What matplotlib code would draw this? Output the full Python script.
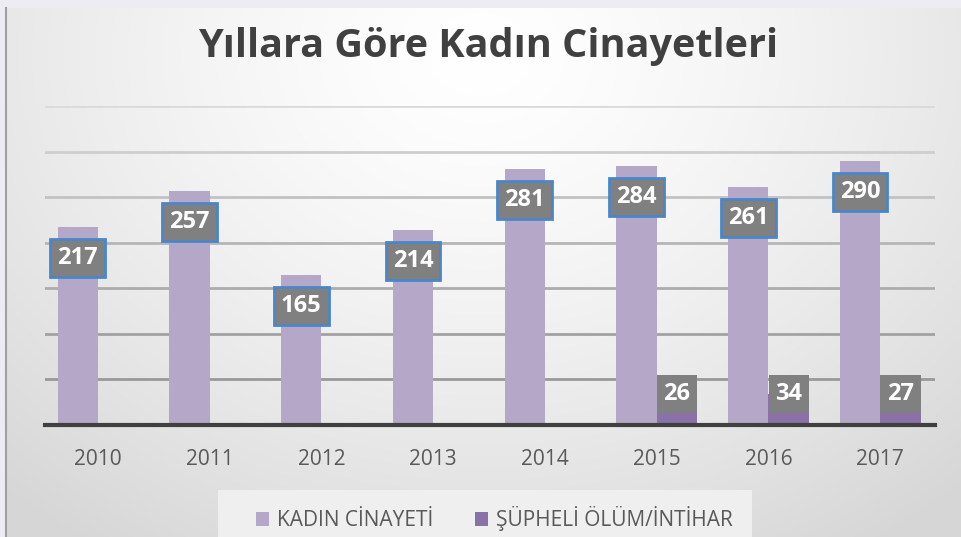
import numpy as np
import matplotlib
matplotlib.use("Agg")
import matplotlib.pyplot as plt
from matplotlib.patches import Rectangle

plt.rcParams["font.family"] = ["Open Sans", "DejaVu Sans"]

# ----------------------------------------------------------------------
# data
# ----------------------------------------------------------------------
YEARS = ["2010", "2011", "2012", "2013", "2014", "2015", "2016", "2017"]
KADIN_CINAYETI = [217, 257, 165, 214, 281, 284, 261, 290]
SUPHELI_OLUM = [np.nan, np.nan, np.nan, np.nan, np.nan, 26, 34, 27]
SERIES_NAMES = ["KADIN CİNAYETİ", "ŞÜPHELİ ÖLÜM/İNTİHAR"]

LIGHT = "#b4a7c8"
DARK = "#8a72a8"
TEXT = "#595959"
LABEL_BOX = "#808080"
LABEL_EDGE = "#4a86c8"

fig = plt.figure(figsize=(9.62, 5.37), dpi=100)

# --- background: soft radial gradient like the office chart area
bg = fig.add_axes([0, 0, 1, 1], zorder=-10)
yy, xx = np.mgrid[0:1:200j, 0:1:300j]
r = np.sqrt(((xx - 0.5) / 0.75) ** 2 + ((yy - 0.1) / 1.1) ** 2)
shade = 1.0 - 0.16 * np.clip(r, 0, 1) ** 1.4
bg.imshow(np.dstack([shade, shade, shade]), extent=[0, 1, 0, 1], aspect="auto", origin="upper")
bg.add_patch(Rectangle((0, 0.985), 1, 0.015, color="#ececf2", lw=0))
bg.add_patch(Rectangle((0, 0), 0.006, 0.985, color="#ececf2", lw=0))
bg.plot([0.0065, 0.0065], [0, 0.985], color="#a0a0a0", lw=1.5)
# legend panel
bg.add_patch(Rectangle((218 / 962, 0), (752 - 218) / 962, 47 / 537, color="#efefef", lw=0))
bg.set_xlim(0, 1)
bg.set_ylim(0, 1)
bg.axis("off")

# --- main plot
ax = fig.add_axes([0.047, 0.2086, 0.925, 0.594])
ax.patch.set_alpha(0)

x = np.arange(len(YEARS))
w = 0.36
b1 = ax.bar(x - w / 2, KADIN_CINAYETI, w, color=LIGHT, label=SERIES_NAMES[0], zorder=3)
b2 = ax.bar(x + w / 2, SUPHELI_OLUM, w, color=DARK, label=SERIES_NAMES[1], zorder=3)

ax.set_ylim(0, 350)
ax.set_xlim(-0.47, 7.49)
grid_vals = np.arange(50, 351, 50)
grid_cols = ["#999999", "#a2a2a2", "#acacac", "#b6b6b6", "#c2c2c2", "#cecece", "#dadada"]
for gv, gc in zip(grid_vals, grid_cols):
    ax.axhline(gv, color=gc, lw=2, zorder=1)
ax.set_yticks([])
ax.set_xticks(x)
ax.set_xticklabels(YEARS, fontsize=15, color=TEXT)
ax.tick_params(axis="x", length=0, pad=17)
for s in ["top", "right", "left"]:
    ax.spines[s].set_visible(False)
ax.spines["bottom"].set_color("#404040")
ax.spines["bottom"].set_linewidth(3)
ax.spines["bottom"].set_zorder(5)

# value labels: light series near bar top, dark series near base
for xi, v in zip(x - w / 2, KADIN_CINAYETI):
    ax.annotate(str(v), (xi, v), xytext=(0, -31), textcoords="offset pixels",
                ha="center", va="center", fontsize=17, fontweight="bold", color="white",
                bbox=dict(boxstyle="square,pad=0.3", fc=LABEL_BOX, ec=LABEL_EDGE, lw=2),
                zorder=6)
for xi, v in zip(x + w / 2, SUPHELI_OLUM):
    if np.isnan(v):
        continue
    ax.annotate(str(int(v)), (xi, 0), xytext=(0, 31), textcoords="offset pixels",
                ha="center", va="center", fontsize=17, fontweight="bold", color="white",
                bbox=dict(boxstyle="square,pad=0.28", fc=LABEL_BOX, ec="none"),
                zorder=6)

fig.text(0.507, 0.913, "Yıllara Göre Kadın Cinayetleri", ha="center", va="center",
         fontsize=28.5, fontweight="bold", color="#404040")

leg = fig.legend(handles=[b1, b2], loc="center", bbox_to_anchor=(0.514, 0.034),
                 ncol=2, frameon=False, fontsize=15, handlelength=0.6, handleheight=0.6,
                 handletextpad=0.4, columnspacing=2.0)
for t in leg.get_texts():
    t.set_color(TEXT)

fig.savefig("out.png", dpi=100)
